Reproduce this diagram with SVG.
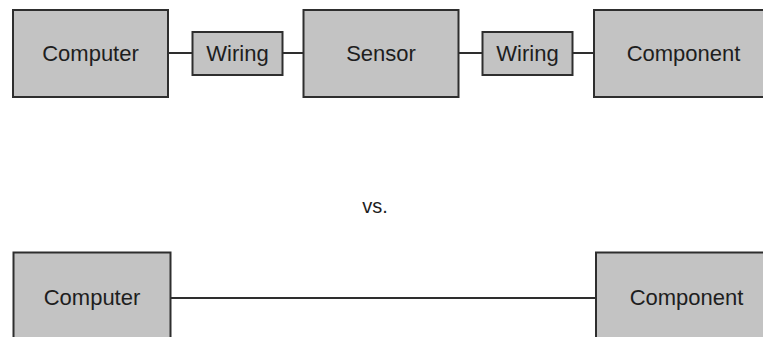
<svg xmlns="http://www.w3.org/2000/svg" width="763" height="337" viewBox="0 0 763 337">
  <style>
    .box { fill: #c3c3c3; stroke: #2e2e2e; stroke-width: 2; }
    .lbl { font-family: "Liberation Sans", Arial, sans-serif; font-size: 22px; fill: #1e1e1e; text-anchor: middle; }
    .wire { stroke: #2e2e2e; stroke-width: 2; fill: none; }
  </style>
  <rect width="763" height="337" fill="#ffffff"/>

  <!-- connectors -->
  <g id="connectors">
    <line class="wire" x1="168" y1="53" x2="192" y2="53"/>
    <line class="wire" x1="282" y1="53" x2="303" y2="53"/>
    <line class="wire" x1="459" y1="53" x2="482" y2="53"/>
    <line class="wire" x1="572" y1="53" x2="594" y2="53"/>
    <line class="wire" x1="171" y1="298" x2="596" y2="298"/>
  </g>

  <!-- top chain -->
  <g id="computer-top">
    <rect class="box" x="13" y="10" width="155" height="87"/>
    <text class="lbl" x="90.5" y="61">Computer</text>
  </g>
  <g id="wiring-1">
    <rect class="box" x="192.5" y="32" width="90" height="43"/>
    <text class="lbl" x="237.5" y="61">Wiring</text>
  </g>
  <g id="sensor">
    <rect class="box" x="303.5" y="10" width="155" height="87"/>
    <text class="lbl" x="381" y="61">Sensor</text>
  </g>
  <g id="wiring-2">
    <rect class="box" x="482.5" y="32" width="90" height="43"/>
    <text class="lbl" x="527.5" y="61">Wiring</text>
  </g>
  <g id="component-top">
    <rect class="box" x="594" y="10" width="190" height="87"/>
    <text class="lbl" x="683.5" y="61">Component</text>
  </g>

  <!-- separator label -->
  <text x="375" y="213" font-family="Liberation Sans, Arial, sans-serif" font-size="20" fill="#1e1e1e" text-anchor="middle">vs.</text>

  <!-- direct link -->
  <g id="computer-bottom">
    <rect class="box" x="13.5" y="252.5" width="157" height="100"/>
    <text class="lbl" x="92" y="305">Computer</text>
  </g>
  <g id="component-bottom">
    <rect class="box" x="596" y="252.5" width="190" height="100"/>
    <text class="lbl" x="686.5" y="305">Component</text>
  </g>
</svg>
